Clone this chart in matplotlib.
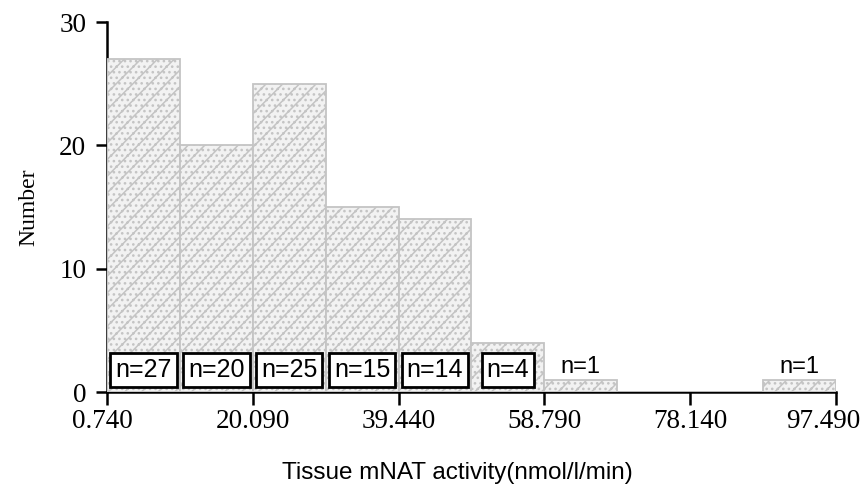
import matplotlib
matplotlib.use("Agg")
import matplotlib.pyplot as plt
from matplotlib.transforms import ScaledTranslation

# Histogram of tissue mNAT activity
bin_edges = [0.74, 10.415, 20.09, 29.765, 39.44, 49.115, 58.79, 68.465, 78.14, 87.815, 97.49]
counts = [27, 20, 25, 15, 14, 4, 1, 0, 0, 1]
x_ticks = [0.74, 20.09, 39.44, 58.79, 78.14, 97.49]
x_tick_labels = ["0.740", "20.090", "39.440", "58.790", "78.140", "97.490"]
y_ticks = [0, 10, 20, 30]

plt.rcParams["hatch.color"] = "#8c8c8c"
plt.rcParams["hatch.linewidth"] = 1.1

fig = plt.figure(figsize=(8.64, 4.9), dpi=100)
ax = fig.add_axes([0.1238, 0.2, 0.8438, 0.7551])

lefts = bin_edges[:-1]
widths = [b - a for a, b in zip(bin_edges[:-1], bin_edges[1:])]
ax.bar(lefts, counts, width=widths, align="edge", color="#f2f2f2",
       edgecolor="#c4c4c4", linewidth=1.3, hatch="//...", zorder=3)

# count labels inside each bin
serif = "Liberation Serif"
sans = "Liberation Sans"
for a, w, c in zip(lefts, widths, counts):
    if c == 0:
        continue
    cx = a + w / 2
    if c > 1:
        ax.text(cx, 1.8, f"n={c}", ha="center", va="center", fontsize=18,
                family=sans, zorder=5,
                bbox=dict(boxstyle="square,pad=0.2", facecolor="white",
                          edgecolor="black", linewidth=2.0))
    else:
        ax.text(cx, 2.05, f"n={c}", ha="center", va="center", fontsize=17,
                family=sans, zorder=5)

ax.set_xlim(bin_edges[0], bin_edges[-1])
ax.set_ylim(0, 30)

for side in ("top", "right"):
    ax.spines[side].set_visible(False)
for side in ("left", "bottom"):
    ax.spines[side].set_linewidth(1.8)
    ax.spines[side].set_zorder(2)

ax.set_xticks(x_ticks)
ax.set_xticklabels(x_tick_labels, family=serif, fontsize=19.5)
ax.set_yticks(y_ticks)
ax.set_yticklabels([str(v) for v in y_ticks], family=serif, fontsize=19.5)
ax.tick_params(axis="x", direction="out", length=9, width=1.8, pad=3)
ax.tick_params(axis="y", direction="out", length=8, width=1.8, pad=7)

# nudge the end labels inward so they stay within the canvas
xlabels = ax.get_xticklabels()
xlabels[0].set_transform(xlabels[0].get_transform()
                         + ScaledTranslation(-5 / 100, 0, fig.dpi_scale_trans))
xlabels[-1].set_transform(xlabels[-1].get_transform()
                          + ScaledTranslation(-13 / 100, 0, fig.dpi_scale_trans))

ax.set_ylabel("Number", family=serif, fontsize=17, labelpad=14)
ax.set_xlabel("Tissue mNAT activity(nmol/l/min)", family=sans, fontsize=17.5,
              labelpad=18)
ax.xaxis.set_label_coords(0.48, -0.19)

fig.savefig("out.png", dpi=100)
